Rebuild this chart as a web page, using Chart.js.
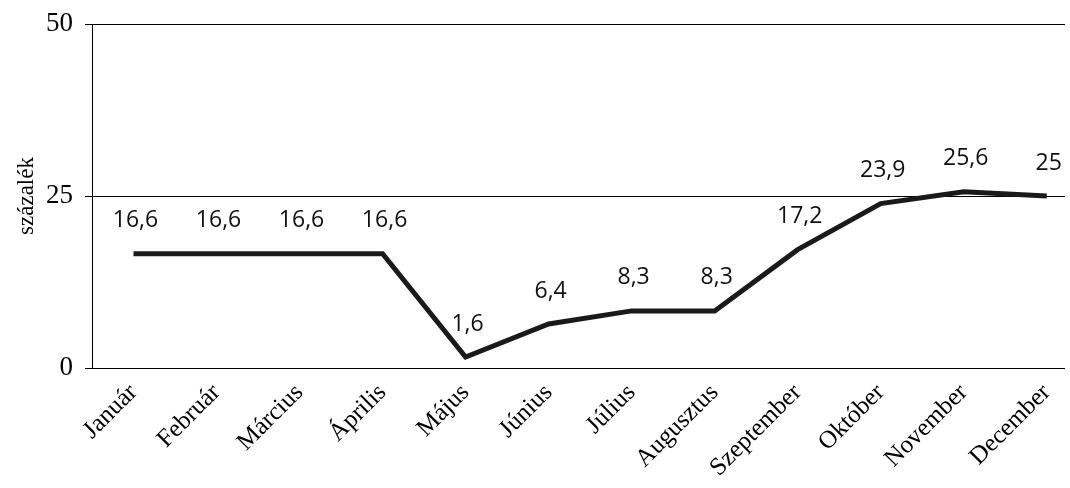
<!DOCTYPE html>
<html lang="hu">
<head>
    <meta charset="UTF-8">
    <title>Százalék havonta</title>
    <style>
        html, body { margin: 0; padding: 0; background: #fff; }
        #chartContainer { width: 1070px; height: 488px; }
    </style>
    <script src="https://cdn.jsdelivr.net/npm/chart.js"></script>
</head>
<body>
    <div id="chartContainer">
        <canvas id="lineChart"></canvas>
    </div>

    <script>
        // Adatok
        const months = ['Január', 'Február', 'Március', 'Április', 'Május', 'Június',
            'Július', 'Augusztus', 'Szeptember', 'Október', 'November', 'December'];
        const values = [16.6, 16.6, 16.6, 16.6, 1.6, 6.4, 8.3, 8.3, 17.2, 23.9, 25.6, 25];
        const yTicks = [0, 25, 50];

        // Értékek kiírása a pontok fölé
        const valueLabels = {
            id: 'valueLabels',
            afterDatasetsDraw(chart) {
                const ctx = chart.ctx;
                const meta = chart.getDatasetMeta(0);
                ctx.save();
                ctx.font = '23px "Open Sans", sans-serif';
                ctx.fillStyle = '#111';
                ctx.textAlign = 'center';
                ctx.textBaseline = 'middle';
                meta.data.forEach((pt, i) => {
                    const txt = String(values[i]).replace('.', ',');
                    ctx.fillText(txt, pt.x + 2, pt.y - 33);
                });
                ctx.restore();
            }
        };

        const serif = '"Liberation Serif", serif';

        const ctx = document.getElementById('lineChart').getContext('2d');
        new Chart(ctx, {
            type: 'line',
            data: {
                datasets: [{
                    data: values.map((v, i) => ({ x: i, y: v })),
                    borderColor: '#1a1a1a',
                    borderWidth: 5,
                    pointRadius: 0,
                    tension: 0,
                    fill: false
                }]
            },
            options: {
                responsive: true,
                maintainAspectRatio: false,
                animation: false,
                layout: { padding: { top: 24, right: 2, left: 13, bottom: 0 } },
                plugins: {
                    legend: { display: false },
                    tooltip: { enabled: false }
                },
                scales: {
                    x: {
                        type: 'linear',
                        min: -0.5,
                        max: 11.22,
                        afterBuildTicks: scale => {
                            scale.ticks = months.map((_, i) => ({ value: i }));
                        },
                        afterFit: scale => { scale.height = 120; },
                        grid: { display: false },
                        border: { display: false },
                        ticks: {
                            autoSkip: false,
                            minRotation: 45,
                            maxRotation: 45,
                            padding: 2,
                            color: '#000',
                            font: { family: serif, size: 25 },
                            callback: v => months[v]
                        }
                    },
                    y: {
                        min: 0,
                        max: 50,
                        afterBuildTicks: scale => {
                            scale.ticks = yTicks.map(v => ({ value: v }));
                        },
                        afterFit: scale => {
                            scale.width = 79;
                            scale.paddingTop = 0;
                            scale.paddingBottom = 0;
                        },
                        grid: { color: '#000', lineWidth: 1, tickLength: 7, tickColor: '#000' },
                        border: { display: true, color: '#000', width: 1 },
                        ticks: {
                            padding: 12,
                            color: '#000',
                            font: { family: serif, size: 27 }
                        },
                        title: {
                            display: true,
                            text: 'százalék',
                            color: '#000',
                            padding: { top: 0, bottom: 4 },
                            font: { family: serif, size: 23 }
                        }
                    }
                }
            },
            plugins: [valueLabels]
        });
    </script>
</body>
</html>
